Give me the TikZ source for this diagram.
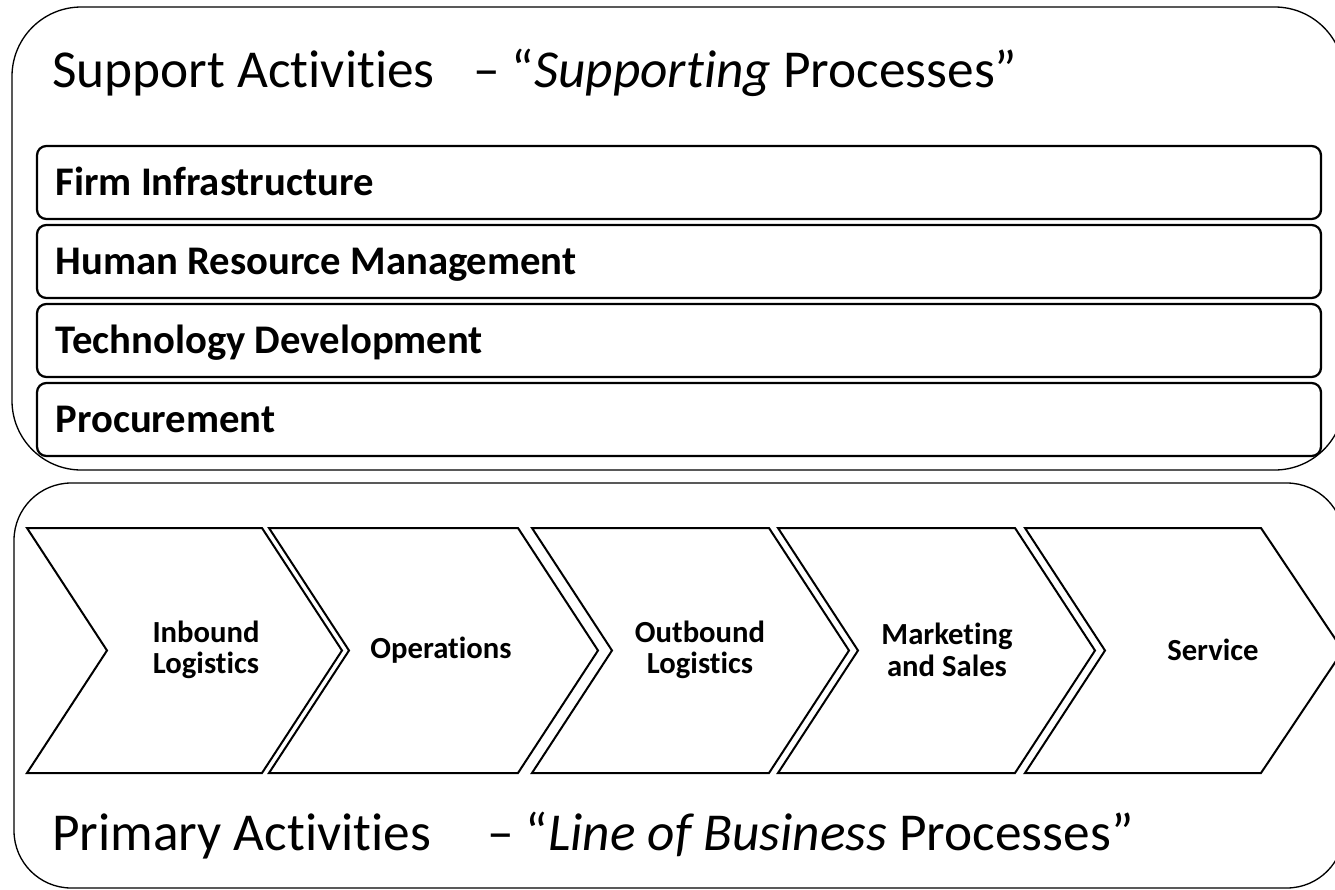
\documentclass[tikz,border=0pt]{standalone}
\usepackage{fontspec}
\setmainfont{Carlito}[Ligatures={TeX,CommonOff}]
\usetikzlibrary{positioning}
\begin{document}
\begin{tikzpicture}
[x=0.75pt, y=-0.75pt,
group box/.style={draw, line width=1pt},
title/.style={anchor=base west, inner sep=0pt, font=\fontsize{40}{48}\selectfont},
bar/.style={draw, line width=1.7pt, rounded corners=7pt, outer sep=0pt,
  text width=935pt, inner xsep=14pt, align=flush left, minimum height=54.75pt,
  text height=20pt, text depth=0pt, font=\fontsize{30.5}{36}\selectfont\bfseries},
chevron/.style={draw, line width=1.5pt},
stage/.style={align=center, inner sep=0pt, font=\fontsize{23}{23.5}\selectfont\bfseries}]
\useasboundingbox (0,0) rectangle (1335,889);
\clip (0,0) rectangle (1335,889);

\draw[group box, rounded corners=52pt] (12,7) rectangle (1344,470);
\draw[group box, rounded corners=43pt] (14,483) rectangle (1344,888);

\node[title] (suptitle) at (52,87) {Support Activities};
\node[title] (supsub) at (473,87) {– “\textit{Supporting} Processes”};

\node[bar, anchor=north west] (firm) at (37,146) {Firm Infrastructure};
\node[bar, below=4.5pt of firm] (hrm) {Human Resource Management};
\node[bar, below=4.5pt of hrm] (tech) {Technology Development};
\node[bar, below=4.5pt of tech] (proc) {Procurement};

\draw[chevron] (27,528) -- (262,528) -- (342,650.5) -- (262,773) -- (27,773) -- (107,650.5) -- cycle;
\draw[chevron] (269,528) -- (518,528) -- (598,650.5) -- (518,773) -- (269,773) -- (349,650.5) -- cycle;
\draw[chevron] (532,528) -- (769,528) -- (849,650.5) -- (769,773) -- (532,773) -- (612,650.5) -- cycle;
\draw[chevron] (778,528) -- (1015,528) -- (1095,650.5) -- (1015,773) -- (778,773) -- (858,650.5) -- cycle;
\draw[chevron] (1025,528) -- (1261,528) -- (1343,650.5) -- (1261,773) -- (1025,773) -- (1105,650.5) -- cycle;

\node[stage] (inbound) at (206,650) {Inbound\\Logistics};
\node[stage] (ops) at (441,650) {Operations};
\node[stage] (outbound) at (700,650) {Outbound\\Logistics};
\node[stage] (market) at (947,650) {Marketing\\and Sales};
\node[stage] (service) at (1213,650) {Service};

\node[title] (primtitle) at (52,850) {Primary Activities};
\node[title] (primsub) at (487,850) {– “\textit{Line of Business} Processes”};
\end{tikzpicture}
\end{document}
